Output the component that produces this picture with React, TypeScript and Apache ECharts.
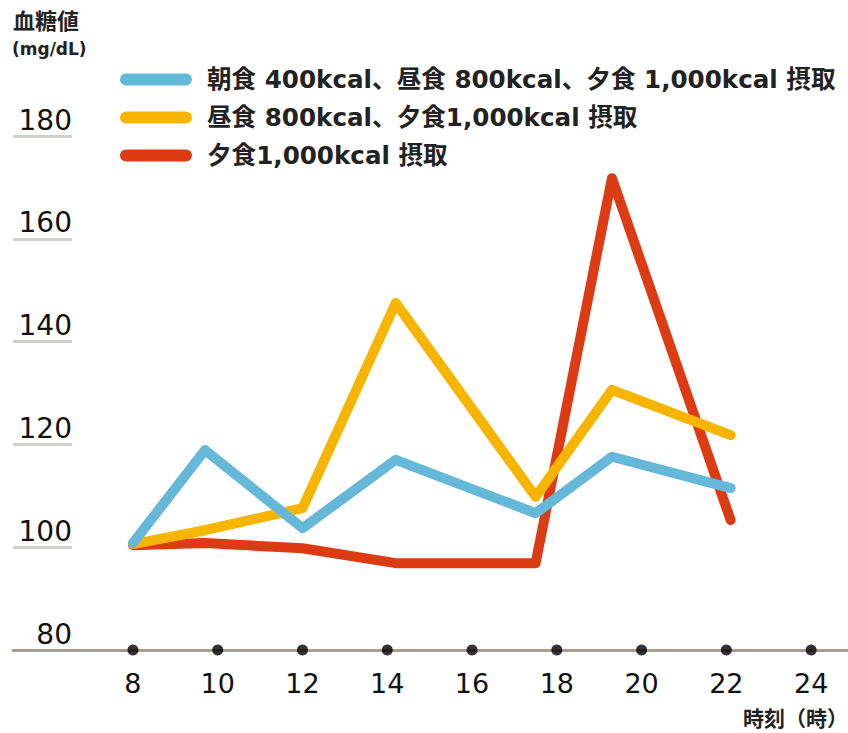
import React, { useEffect, useRef } from "react";
import * as echarts from "echarts";

const hours = [8, 9.7, 12, 14.2, 17.5, 19.3, 22.1];
const seriesNames = [
  "朝食 400kcal、昼食 800kcal、夕食 1,000kcal 摂取",
  "昼食 800kcal、夕食1,000kcal 摂取",
  "夕食1,000kcal 摂取",
];
const blueValues = [100.8, 118.9, 103.7, 117.0, 106.6, 117.6, 111.5];
const yellowValues = [100.6, 103.3, 107.6, 147.5, 109.8, 130.6, 121.8];
const redValues = [100.4, 100.8, 99.8, 96.9, 96.9, 171.8, 105.3];
const xTicks = [8, 10, 12, 14, 16, 18, 20, 22, 24];
const yTicks = [100, 120, 140, 160, 180];
const colors = ["#66b8d9", "#f7b500", "#dd3b14"];

const NUM_FONT = "'DejaVu Sans', 'Noto Sans CJK JP', sans-serif";
const CJK_FONT = "'Noto Sans CJK JP', sans-serif";

export default function App() {
  const ref = useRef<HTMLDivElement>(null);
  useEffect(() => {
    if (!ref.current) return;
    const chart = echarts.init(ref.current, null, { renderer: "svg" });
    const mk = (v: number[]) => v.map((y, i) => [hours[i], y]);
    const lineSeries = (name: string, data: number[], color: string, z: number) => ({
      type: "line",
      name,
      data: mk(data),
      showSymbol: false,
      symbol: "none",
      z,
      lineStyle: { width: 10, color, cap: "round", join: "round" },
      itemStyle: { color },
    });
    chart.setOption({
      animation: false,
      grid: { left: 13, right: 0, top: 136, bottom: 83, containLabel: false },
      legend: {
        orient: "vertical",
        left: 120,
        top: 67,
        padding: 0,
        itemWidth: 72,
        itemHeight: 12,
        itemGap: 13,
        icon: "path://M6,0H66A6,6,0,0,1,66,12H6A6,6,0,0,1,6,0Z",
        data: seriesNames,
        textStyle: {
          fontSize: 24.6,
          fontWeight: "bold",
          color: "#222",
          fontFamily: NUM_FONT,
          lineHeight: 25,
          padding: [0, 0, 0, 10],
        },
      },
      xAxis: {
        type: "value",
        min: 5.17,
        max: 24.87,
        axisLine: { show: true, lineStyle: { color: "#a89c8e", width: 3 } },
        axisTick: { show: false },
        splitLine: { show: false },
        axisLabel: {
          customValues: xTicks,
          fontSize: 27,
          color: "#111",
          fontFamily: NUM_FONT,
          margin: 20,
        },
      },
      yAxis: {
        type: "value",
        min: 80,
        max: 180,
        interval: 20,
        axisLine: { show: false },
        splitLine: { show: false },
        axisTick: {
          show: true,
          inside: true,
          length: 59,
          customValues: yTicks,
          lineStyle: { color: "#d2d0cc", width: 3 },
        },
        axisLabel: {
          inside: true,
          margin: 59,
          align: "right",
          verticalAlign: "bottom",
          fontSize: 28,
          lineHeight: 28,
          padding: [0, 0, 2, 0],
          color: "#111",
          fontFamily: NUM_FONT,
          showMinLabel: true,
          showMaxLabel: true,
        },
      },
      series: [
        lineSeries(seriesNames[0], blueValues, colors[0], 5),
        lineSeries(seriesNames[1], yellowValues, colors[1], 4),
        lineSeries(seriesNames[2], redValues, colors[2], 3),
        {
          type: "scatter",
          name: "ticks",
          data: xTicks.map((h) => [h, 80]),
          symbol: "circle",
          symbolSize: 11,
          clip: false,
          z: 6,
          itemStyle: { color: "#000" },
          silent: true,
        },
      ],
      graphic: [
        {
          type: "text",
          left: 13,
          top: 8,
          style: { text: "血糖値", font: `bold 22px ${CJK_FONT}`, fill: "#222" },
        },
        {
          type: "text",
          left: 12,
          top: 40,
          style: { text: "(mg/dL)", font: `bold 17px ${NUM_FONT}`, fill: "#222" },
        },
        {
          type: "text",
          left: 743,
          top: 706,
          style: { text: "時刻（時）", font: `bold 21px ${CJK_FONT}`, fill: "#222" },
        },
      ],
    });
    return () => chart.dispose();
  }, []);
  return (
    <div
      ref={ref}
      style={{ position: "fixed", left: 0, top: 0, width: 848, height: 733, background: "#fff" }}
    />
  );
}
